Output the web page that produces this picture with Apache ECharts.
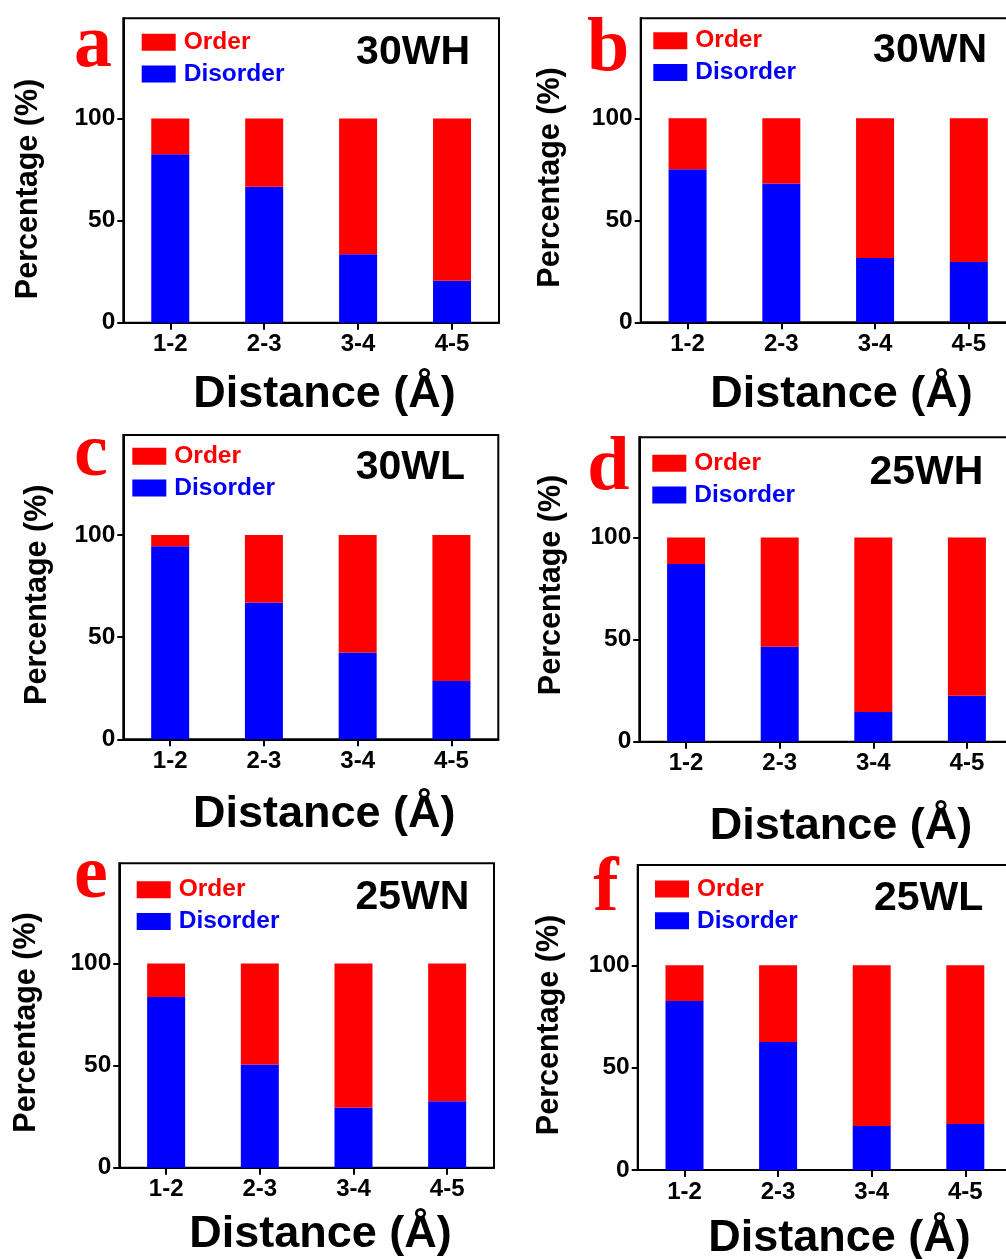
<!DOCTYPE html>
<html>
<head>
<meta charset="utf-8">
<style>
  html, body { margin: 0; padding: 0; background: #fff; }
  #chart-container { width: 1006px; height: 1259px; }
</style>
</head>
<body>
<div id="chart-container"></div>
<script src="https://cdn.jsdelivr.net/npm/echarts/dist/echarts.min.js"></script>
<script>
var dom = document.getElementById("chart-container");
var myChart = echarts.init(dom, null, {
  renderer: "canvas",
  useDirtyRect: false
});

// data
const categories = ["1-2", "2-3", "3-4", "4-5"];
const yTicks = [0, 50, 100];
const panelNames = ["30WH", "30WN", "30WL", "25WH", "25WN", "25WL"];
const panelLetters = ["a", "b", "c", "d", "e", "f"];

const disorder30WH = [82.5, 66.5, 33.5, 20.5];
const order30WH = [17.5, 33.5, 66.5, 79.5];
const disorder30WN = [75, 68, 31.5, 29.5];
const order30WN = [25, 32, 68.5, 70.5];
const disorder30WL = [94.5, 67, 42.5, 28.5];
const order30WL = [5.5, 33, 57.5, 71.5];
const disorder25WH = [87, 46.5, 14.5, 22.5];
const order25WH = [13, 53.5, 85.5, 77.5];
const disorder25WN = [83.5, 50.5, 29.5, 32.5];
const order25WN = [16.5, 49.5, 70.5, 67.5];
const disorder25WL = [82.5, 62.5, 21.5, 22.5];
const order25WL = [17.5, 37.5, 78.5, 77.5];

const disorderData = [disorder30WH, disorder30WN, disorder30WL, disorder25WH, disorder25WN, disorder25WL];
const orderData = [order30WH, order30WN, order30WL, order25WH, order25WN, order25WL];

// where each panel sits in the figure (pixels)
const layout = [
  { grid: [123.3, 18.3, 375.7, 304.4], legend: [141.7, 29.8], letter: [74, 46.5], title: [470, 52.3], xName: [324.5, 394.4], yName: [29, 189] },
  { grid: [640.7, 18.3, 375.0, 304.0], legend: [653.3, 28.2], letter: [587, 50.8], title: [987, 50.6], xName: [841.5, 394.4], yName: [551, 177.5] },
  { grid: [123.3, 435.0, 375.0, 304.3], legend: [132.3, 443.8], letter: [74, 455.8], title: [465, 467.3], xName: [324.3, 814.7], yName: [37.5, 594.7] },
  { grid: [639.3, 437.3, 374.4, 304.4], legend: [652.3, 450.8], letter: [587.3, 469.1], title: [983.3, 472.3], xName: [841, 826.4], yName: [552, 585] },
  { grid: [119.3, 863.3, 374.7, 304.4], legend: [136.7, 877.2], letter: [74, 877.5], title: [469.3, 898], xName: [320.5, 1234.7], yName: [26.7, 1022.5] },
  { grid: [637.7, 865.0, 374.4, 305.0], legend: [655, 876.5], letter: [593.3, 890.8], title: [983.3, 899], xName: [839.5, 1238.1], yName: [550, 1025] }
];

const sans = "'Liberation Sans', Arial, sans-serif";
const serif = "'Liberation Serif', 'Times New Roman', serif";

var grids = [], xAxes = [], yAxes = [], series = [], legends = [], graphics = [];

layout.forEach(function (p, i) {
  grids.push({
    left: p.grid[0],
    top: p.grid[1],
    width: p.grid[2],
    height: p.grid[3],
    show: true,
    borderColor: "#000",
    borderWidth: 2,
    backgroundColor: "#fff",
    outerBoundsMode: "none",
    containLabel: false
  });
  xAxes.push({
    type: "category",
    gridIndex: i,
    data: categories,
    axisLine: { show: true, lineStyle: { color: "#000", width: 2 } },
    axisTick: { show: true, alignWithLabel: true, length: 7, lineStyle: { color: "#000", width: 2 } },
    axisLabel: {
      color: "#000",
      fontFamily: sans,
      fontWeight: "bold",
      fontSize: 24,
      margin: 10
    },
    splitLine: { show: false }
  });
  yAxes.push({
    type: "value",
    gridIndex: i,
    min: 0,
    max: 149,
    axisLine: { show: true, lineStyle: { color: "#000", width: 2 } },
    axisTick: { show: true, length: 6, customValues: yTicks, lineStyle: { color: "#000", width: 2 } },
    axisLabel: {
      color: "#000",
      fontFamily: sans,
      fontWeight: "bold",
      fontSize: 24.5,
      margin: 8,
      customValues: yTicks
    },
    splitLine: { show: false }
  });
  series.push({
    name: "Disorder",
    type: "bar",
    xAxisIndex: i,
    yAxisIndex: i,
    stack: "panel" + i,
    barWidth: 38,
    itemStyle: { color: "#0000ff" },
    data: disorderData[i]
  });
  series.push({
    name: "Order",
    type: "bar",
    xAxisIndex: i,
    yAxisIndex: i,
    stack: "panel" + i,
    barWidth: 38,
    itemStyle: { color: "#ff0000" },
    data: orderData[i]
  });
  legends.push({
    orient: "vertical",
    left: p.legend[0],
    top: p.legend[1],
    padding: 0,
    icon: "rect",
    itemWidth: 34,
    itemHeight: 17,
    itemGap: 6.8,
    selectedMode: false,
    textStyle: { fontFamily: sans, fontWeight: "bold", fontSize: 24.5, lineHeight: 24, padding: [0, 0, 0, 3] },
    data: [
      { name: "Order", textStyle: { color: "#ff0000" } },
      { name: "Disorder", textStyle: { color: "#0000ff" } }
    ]
  });
  graphics.push({
    type: "text",
    x: p.letter[0],
    y: p.letter[1],
    style: {
      text: panelLetters[i],
      fill: "#ff0000",
      font: "bold 76px " + serif,
      align: "left",
      verticalAlign: "middle"
    }
  });
  graphics.push({
    type: "text",
    x: p.title[0],
    y: p.title[1],
    style: {
      text: panelNames[i],
      fill: "#000",
      font: "bold 41px " + sans,
      align: "right",
      verticalAlign: "middle"
    }
  });
  graphics.push({
    type: "text",
    x: p.xName[0],
    y: p.xName[1],
    style: {
      text: "Distance (Å)",
      fill: "#000",
      font: "bold 45px " + sans,
      align: "center",
      verticalAlign: "middle"
    }
  });
  graphics.push({
    type: "text",
    x: p.yName[0],
    y: p.yName[1],
    rotation: Math.PI / 2,
    style: {
      text: "Percentage (%)",
      fill: "#000",
      font: "bold 30.5px " + sans,
      align: "center",
      verticalAlign: "middle"
    }
  });
});

var option = {
  animation: false,
  backgroundColor: "#fff",
  grid: grids,
  xAxis: xAxes,
  yAxis: yAxes,
  legend: legends,
  series: series,
  graphic: graphics
};

if (option && typeof option === "object") {
  myChart.setOption(option);
}

window.addEventListener("resize", myChart.resize);
</script>
</body>
</html>
